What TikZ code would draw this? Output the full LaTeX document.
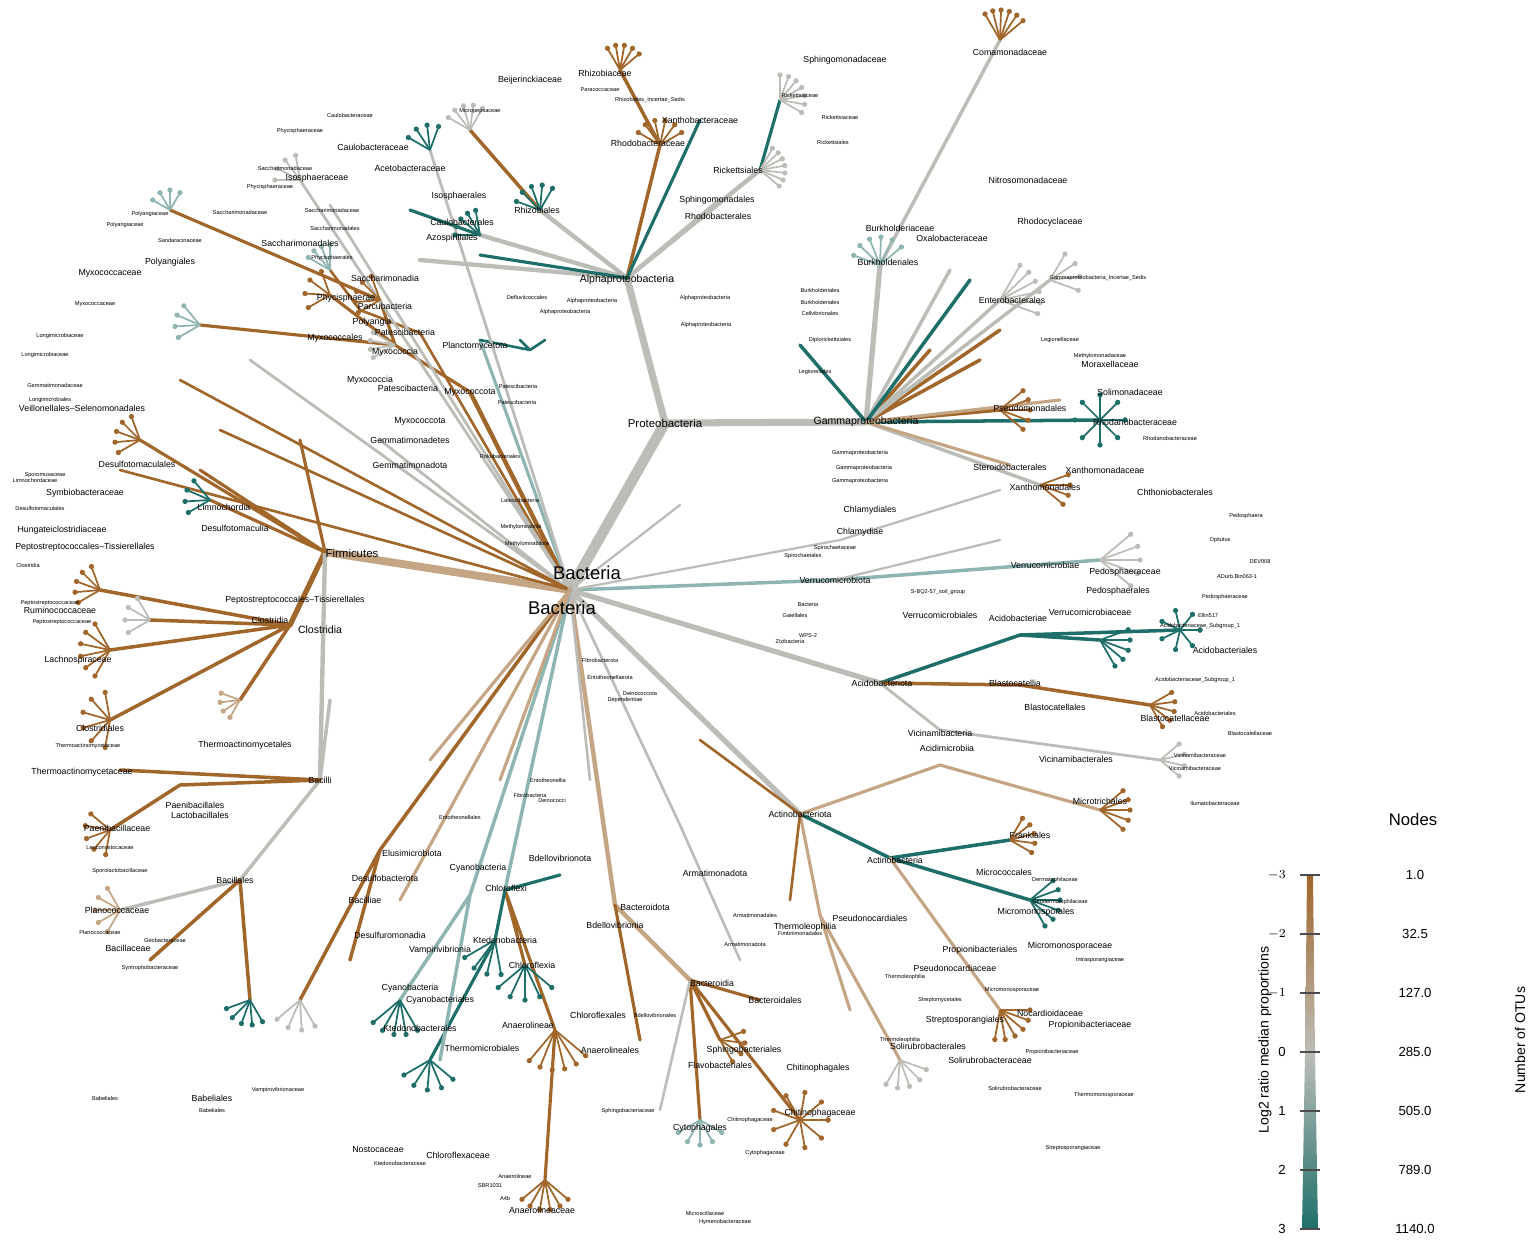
\documentclass[tikz,border=0pt]{standalone}
\usepackage{fontspec}
\setmainfont{Liberation Sans}
\definecolor{brn}{HTML}{A0662A}
\definecolor{tan}{HTML}{C4A584}
\definecolor{gry}{HTML}{BDBDB8}
\definecolor{ltl}{HTML}{8FB5B3}
\definecolor{tea}{HTML}{1E6F6A}
\newcommand\leaffan[6]{\foreach \i in {1,...,#4}{\pgfmathsetmacro\ang{#2+(#3-#2)*(\i-1)/max(#4-1,1)}\draw[#6,line width=1pt] (#1) -- ++(\ang:#5) node[dot,fill=#6]{};}}
\begin{document}
\begin{tikzpicture}[x=0.02cm,y=-0.02cm,
  dot/.style={circle,inner sep=0pt,minimum size=3pt},
  big/.style={font=\fontsize{9.5}{10}\selectfont},
  lab/.style={font=\fontsize{5}{6}\selectfont},
  sm/.style={font=\fontsize{3.2}{4}\selectfont},
  e/.style={line cap=round}]
\useasboundingbox (0,0) rectangle (1535,1241);
% ---------- coordinates
\coordinate (B) at (570,590);
\coordinate (P) at (665,423);
\coordinate (A) at (627,278);
\coordinate (G) at (866,422);
\coordinate (Bu) at (880,265);
\coordinate (Co) at (1000,40);
\coordinate (F) at (325,552);
\coordinate (Cl) at (290,625);
\coordinate (Ba) at (320,780);
\coordinate (Mx) at (470,392);
\coordinate (Mc) at (395,345);
\coordinate (Pg) at (380,300);
\coordinate (Pl) at (480,340);
\coordinate (Pt) at (420,333);
\coordinate (Ve) at (835,580);
\coordinate (Vc) at (1100,560);
\coordinate (Ac) at (880,683);
\coordinate (Aa) at (1020,635);
\coordinate (Bl) at (1020,685);
\coordinate (Vi) at (940,730);
\coordinate (At) at (800,814);
\coordinate (An) at (890,858);
\coordinate (Am) at (940,765);
\coordinate (Th) at (820,915);
\coordinate (Bd) at (615,905);
\coordinate (Bi) at (690,980);
\coordinate (Cx) at (505,890);
\coordinate (Cf) at (525,965);
\coordinate (Ae) at (555,1030);
\coordinate (Kt) at (495,940);
\coordinate (Cy) at (470,895);
\coordinate (Ds) at (380,850);
\coordinate (Bs) at (240,880);
\coordinate (Lb) at (180,785);
\coordinate (Rz) at (540,210);
\coordinate (Sp) at (720,200);
\coordinate (Rb) at (660,145);
\coordinate (Ca) at (480,235);
\coordinate (Ab) at (420,260);
\coordinate (Ri) at (760,170);
\coordinate (Ps) at (1000,410);
\coordinate (En) at (1000,300);
\coordinate (Xa) at (1040,485);
\coordinate (Ch) at (840,540);
\coordinate (Ar) at (680,825);
\coordinate (Ko) at (240,700);
% ---------- edges
\draw[e,gry,line width=6pt] (B)--(P);
\draw[e,gry,line width=4pt] (P)--(A) (P)--(G);
\draw[e,gry,line width=3pt] (G)--(Bu);
\draw[e,gry,line width=2pt] (Bu)--(Co);
\draw[e,tan,line width=4.5pt] (B)--(F);
\draw[e,brn,line width=3pt] (F)--(Cl);
\draw[e,gry,line width=2.5pt] (F)--(Ba);
\draw[e,brn,line width=2pt] (Cl)--(110,650) (Cl)--(110,720) (Cl)--(100,590) (Cl)--(150,620) (Cl)--(Ko);
\draw[e,brn,line width=1.8pt] (F)--(210,500) (F)--(200,470) (F)--(300,440) (F)--(140,440);
\draw[e,brn,line width=2.5pt] (B)--(Mx);
\draw[e,brn,line width=1.8pt] (Mx)--(Mc) (Mc)--(Pg) (Mc)--(330,295) (Pg)--(170,210) (Mc)--(200,325);
\draw[e,ltl,line width=1.8pt] (B)--(Pl);
\draw[e,tea,line width=1.5pt] (Pl)--(530,350) (530,350)--(545,340) (530,350)--(520,340);
\draw[e,brn,line width=1.5pt] (B)--(Pt) (Pt)--(360,310) (360,310)--(330,270);
\draw[e,gry,line width=1.6pt] (B)--(430,150) (B)--(300,180) (B)--(330,205) (B)--(380,440) (B)--(250,360);
\draw[e,brn,line width=1.5pt] (B)--(180,380) (B)--(120,470) (B)--(220,430);
\draw[e,ltl,line width=2pt] (B)--(Ve) (Ve)--(Vc);
\draw[e,gry,line width=1.3pt] (Ve)--(1000,540) (B)--(Ch) (Ch)--(1000,490) (B)--(680,505);
\draw[e,gry,line width=3pt] (B)--(Ac);
\draw[e,tea,line width=2pt] (Ac)--(Aa) (Aa)--(1100,640) (Aa)--(1180,630);
\draw[e,brn,line width=2pt] (Ac)--(Bl) (Bl)--(1150,705);
\draw[e,gry,line width=1.6pt] (Ac)--(Vi) (Vi)--(1160,760);
\draw[e,gry,line width=3pt] (B)--(At);
\draw[e,tea,line width=2pt] (At)--(An) (An)--(1010,840) (An)--(1030,900);
\draw[e,tan,line width=1.8pt] (At)--(Am) (Am)--(1100,810) (An)--(1000,1010);
\draw[e,tan,line width=1.8pt] (At)--(Th) (Th)--(900,1060) (Th)--(850,1010);
\draw[e,brn,line width=1.5pt] (At)--(790,900) (At)--(700,740);
\draw[e,tan,line width=2.5pt] (B)--(Bd) (Bd)--(Bi);
\draw[e,brn,line width=1.8pt] (Bi)--(720,1040) (Bi)--(760,1000) (Bi)--(800,1120) (Bi)--(700,1120) (Bd)--(640,1040);
\draw[e,gry,line width=1.5pt] (Bi)--(660,1110) (B)--(Ar) (Ar)--(740,960) (B)--(590,780);
\draw[e,ltl,line width=2pt] (B)--(Cx);
\draw[e,brn,line width=1.8pt] (Cx)--(Cf) (Cx)--(Ae) (Ae)--(545,1180);
\draw[e,tea,line width=1.8pt] (Cx)--(Kt) (Kt)--(430,1060) (Cx)--(560,875);
\draw[e,ltl,line width=2pt] (B)--(Cy) (Cy)--(400,1000) (Cy)--(440,1060);
\draw[e,brn,line width=2pt] (B)--(Ds) (Ds)--(300,1000) (Ds)--(350,960);
\draw[e,tan,line width=1.8pt] (B)--(430,760) (B)--(500,780) (B)--(400,900);
\draw[e,gry,line width=2pt] (Ba)--(Bs) (Bs)--(120,910) (Ba)--(330,700);
\draw[e,brn,line width=2pt] (Ba)--(Lb) (Lb)--(110,830) (Ba)--(120,770) (Bs)--(250,1000) (Bs)--(150,960);
\draw[e,gry,line width=2.5pt] (A)--(Rz) (A)--(Ca) (A)--(Ab) (A)--(Ri) (A)--(Sp);
\draw[e,brn,line width=2pt] (A)--(Rb) (Rz)--(470,130) (Rb)--(620,70);
\draw[e,tea,line width=1.8pt] (A)--(480,255) (A)--(700,120) (Ca)--(410,210) (Ri)--(780,100);
\draw[e,brn,line width=2pt] (G)--(Ps) (G)--(1000,330) (G)--(930,350) (G)--(980,360);
\draw[e,gry,line width=2pt] (G)--(En) (G)--(Xa) (G)--(1050,280) (G)--(950,270);
\draw[e,tea,line width=2pt] (G)--(800,345) (G)--(1100,420) (G)--(970,280);
\draw[e,tan,line width=1.8pt] (G)--(1010,465) (G)--(1060,400);
% ---------- fans
\leaffan{Co}{-120}{-40}{6}{30}{brn}
\leaffan{Bu}{200}{320}{6}{28}{ltl}
\leaffan{Rb}{-150}{-30}{6}{25}{brn}
\leaffan{Rz}{200}{300}{5}{25}{tea}
\leaffan{Ri}{-60}{40}{7}{25}{gry}
\leaffan{Ca}{180}{260}{5}{25}{tea}
\leaffan{Pg}{150}{250}{5}{25}{brn}
\leaffan{170,210}{-150}{-60}{4}{20}{ltl}
\leaffan{Mc}{150}{210}{4}{25}{gry}
\leaffan{140,440}{150}{250}{5}{25}{brn}
\leaffan{210,500}{150}{230}{4}{25}{tea}
\leaffan{100,590}{150}{250}{5}{25}{brn}
\leaffan{110,650}{120}{240}{6}{30}{brn}
\leaffan{110,720}{100}{260}{6}{28}{brn}
\leaffan{150,620}{150}{240}{4}{25}{gry}
\leaffan{110,830}{100}{220}{5}{25}{brn}
\leaffan{120,910}{120}{240}{5}{25}{tan}
\leaffan{250,1000}{60}{160}{5}{25}{tea}
\leaffan{300,1000}{60}{140}{4}{30}{gry}
\leaffan{400,1000}{60}{140}{5}{35}{tea}
\leaffan{430,1060}{40}{150}{5}{30}{tea}
\leaffan{545,1180}{40}{140}{6}{30}{brn}
\leaffan{Ae}{40}{130}{6}{40}{brn}
\leaffan{Cf}{40}{140}{5}{35}{tea}
\leaffan{800,1120}{0}{360}{10}{28}{brn}
\leaffan{700,1120}{30}{150}{5}{25}{ltl}
\leaffan{720,1040}{-20}{60}{4}{25}{brn}
\leaffan{900,1060}{20}{120}{5}{28}{gry}
\leaffan{1000,1010}{0}{100}{6}{30}{brn}
\leaffan{1030,900}{-40}{60}{6}{30}{tea}
\leaffan{1010,840}{-60}{30}{5}{25}{brn}
\leaffan{1100,810}{-40}{40}{5}{30}{brn}
\leaffan{1160,760}{-40}{40}{4}{25}{gry}
\leaffan{1150,705}{-30}{60}{5}{25}{brn}
\leaffan{1180,630}{0}{360}{8}{20}{tea}
\leaffan{1100,640}{-20}{60}{5}{30}{tea}
\leaffan{Vc}{-40}{40}{5}{40}{gry}
\leaffan{1100,420}{0}{360}{9}{25}{tea}
\leaffan{Ps}{-40}{40}{5}{30}{brn}
\leaffan{En}{-60}{20}{6}{40}{gry}
\leaffan{1050,280}{-60}{20}{4}{30}{gry}
\leaffan{Xa}{-20}{40}{4}{30}{brn}
\leaffan{780,100}{-90}{30}{7}{25}{gry}
\leaffan{620,70}{-120}{-40}{5}{25}{brn}
\leaffan{470,130}{-150}{-60}{5}{25}{gry}
\leaffan{330,295}{150}{250}{4}{25}{brn}
\leaffan{200,325}{150}{230}{4}{25}{ltl}
\leaffan{330,270}{-150}{-90}{4}{25}{ltl}
\leaffan{430,150}{-150}{-70}{4}{25}{tea}
\leaffan{300,180}{180}{260}{4}{25}{gry}
\leaffan{Kt}{80}{150}{4}{35}{tea}
\leaffan{Ko}{120}{200}{4}{20}{tan}
% ---------- labels
\node[big,font=\fontsize{10.5}{11}\selectfont] at (587,573) {Bacteria};
\node[big,font=\fontsize{10.5}{11}\selectfont] at (562,608) {Bacteria};
\node[lab,font=\fontsize{6.5}{7}\selectfont] at (665,423) {Proteobacteria};
\node[lab,font=\fontsize{6}{7}\selectfont] at (627,280) {Alphaproteobacteria};
\node[lab,font=\fontsize{6}{7}\selectfont] at (866,422) {Gammaproteobacteria};
\node[lab,font=\fontsize{6.5}{7}\selectfont] at (352,553) {Firmicutes};
\node[lab,font=\fontsize{6}{7}\selectfont] at (320,630) {Clostridia};
\node[lab] at (320,780) {Bacilli};
\node[lab] at (888,262) {Burkholderiales};
\node[lab] at (900,228) {Burkholderiaceae};
\node[lab] at (1010,52) {Comamonadaceae};
\node[lab] at (1028,180) {Nitrosomonadaceae};
\node[lab] at (1050,222) {Rhodocyclaceae};
\node[lab] at (952,238) {Oxalobacteraceae};
\node[lab] at (845,60) {Sphingomonadaceae};
\node[lab] at (470,392) {Myxococcota};
\node[lab] at (395,352) {Myxococcia};
\node[lab] at (372,322) {Polyangia};
\node[lab] at (170,262) {Polyangiales};
\node[lab] at (110,273) {Myxococcaceae};
\node[lab] at (475,346) {Planctomycetota};
\node[lab] at (405,332) {Patescibacteria};
\node[lab] at (385,278) {Saccharimonadia};
\node[lab] at (346,298) {Phycisphaerae};
\node[lab] at (300,243) {Saccharimonadales};
\node[lab] at (385,306) {Parcubacteria};
\node[lab] at (452,238) {Azospirillales};
\node[lab] at (462,222) {Caulobacterales};
\node[lab] at (459,196) {Isosphaerales};
\node[lab] at (410,168) {Acetobacteraceae};
\node[lab] at (373,147) {Caulobacteraceae};
\node[lab] at (317,178) {Isosphaeraceae};
\node[lab] at (537,210) {Rhizobiales};
\node[lab] at (717,200) {Sphingomonadales};
\node[lab] at (718,216) {Rhodobacterales};
\node[lab] at (648,143) {Rhodobacteraceae};
\node[lab] at (738,170) {Rickettsiales};
\node[lab] at (700,120) {Xanthobacteraceae};
\node[lab] at (605,73) {Rhizobiaceae};
\node[lab] at (530,80) {Beijerinckiaceae};
\node[lab] at (1030,408) {Pseudomonadales};
\node[lab] at (1012,300) {Enterobacterales};
\node[lab] at (1045,487) {Xanthomonadales};
\node[lab] at (1010,467) {Steroidobacterales};
\node[lab] at (1135,422) {Rhodanobacteraceae};
\node[lab] at (1105,470) {Xanthomonadaceae};
\node[lab] at (1110,364) {Moraxellaceae};
\node[lab] at (1130,392) {Solimonadaceae};
\node[lab] at (860,532) {Chlamydiae};
\node[lab] at (870,510) {Chlamydiales};
\node[lab] at (835,580) {Verrucomicrobiota};
\node[lab] at (1045,565) {Verrucomicrobiae};
\node[lab] at (1125,572) {Pedosphaeraceae};
\node[lab] at (1118,591) {Pedosphaerales};
\node[lab] at (1175,492) {Chthoniobacterales};
\node[lab] at (940,615) {Verrucomicrobiales};
\node[lab] at (1090,612) {Verrucomicrobiaceae};
\node[lab] at (882,683) {Acidobacteriota};
\node[lab] at (1018,618) {Acidobacteriae};
\node[lab] at (1015,683) {Blastocatellia};
\node[lab] at (1225,650) {Acidobacteriales};
\node[lab] at (1055,707) {Blastocatellales};
\node[lab] at (1175,718) {Blastocatellaceae};
\node[lab] at (940,733) {Vicinamibacteria};
\node[lab] at (1076,759) {Vicinamibacterales};
\node[lab] at (947,748) {Acidimicrobiia};
\node[lab] at (1100,801) {Microtrichales};
\node[lab] at (800,814) {Actinobacteriota};
\node[lab] at (895,860) {Actinobacteria};
\node[lab] at (1030,835) {Frankiales};
\node[lab] at (1004,872) {Micrococcales};
\node[lab] at (1036,912) {Micromonosporales};
\node[lab] at (1070,946) {Micromonosporaceae};
\node[lab] at (980,950) {Propionibacteriales};
\node[lab] at (955,968) {Pseudonocardiaceae};
\node[lab] at (1050,1013) {Nocardioidaceae};
\node[lab] at (1090,1025) {Propionibacteriaceae};
\node[lab] at (965,1020) {Streptosporangiales};
\node[lab] at (990,1060) {Solirubrobacteraceae};
\node[lab] at (928,1046) {Solirubrobacterales};
\node[lab] at (870,918) {Pseudonocardiales};
\node[lab] at (805,927) {Thermoleophilia};
\node[lab] at (715,873) {Armatimonadota};
\node[lab] at (560,858) {Bdellovibrionota};
\node[lab] at (645,907) {Bacteroidota};
\node[lab] at (712,983) {Bacteroidia};
\node[lab] at (615,925) {Bdellovibrionia};
\node[lab] at (775,1000) {Bacteroidales};
\node[lab] at (818,1068) {Chitinophagales};
\node[lab] at (744,1050) {Sphingobacteriales};
\node[lab] at (720,1065) {Flavobacteriales};
\node[lab] at (700,1128) {Cytophagales};
\node[lab] at (820,1113) {Chitinophagaceae};
\node[lab] at (610,1050) {Anaerolineales};
\node[lab] at (506,888) {Chloroflexi};
\node[lab] at (532,965) {Chloroflexia};
\node[lab] at (505,940) {Ktedonobacteria};
\node[lab] at (528,1025) {Anaerolineae};
\node[lab] at (598,1015) {Chloroflexales};
\node[lab] at (482,1048) {Thermomicrobiales};
\node[lab] at (542,1210) {Anaerolineaceae};
\node[lab] at (458,1155) {Chloroflexaceae};
\node[lab] at (420,1028) {Ktedonobacterales};
\node[lab] at (440,1000) {Cyanobacteriales};
\node[lab] at (478,868) {Cyanobacteria};
\node[lab] at (410,988) {Cyanobacteria};
\node[lab] at (378,1150) {Nostocaceae};
\node[lab] at (440,950) {Vampirivibrionia};
\node[lab] at (412,853) {Elusimicrobiota};
\node[lab] at (385,878) {Desulfobacterota};
\node[lab] at (390,935) {Desulfuromonadia};
\node[lab] at (365,900) {Bacilliae};
\node[lab] at (212,1098) {Babeliales};
\node[lab] at (128,948) {Bacillaceae};
\node[lab] at (117,910) {Planococcaceae};
\node[lab] at (235,880) {Bacillales};
\node[lab] at (200,815) {Lactobacillales};
\node[lab] at (195,805) {Paenibacillales};
\node[lab] at (117,828) {Paenibacillaceae};
\node[lab] at (82,772) {Thermoactinomycetaceae};
\node[lab] at (245,745) {Thermoactinomycetales};
\node[lab] at (100,728) {Clostridiales};
\node[lab] at (78,660) {Lachnospiraceae};
\node[lab] at (60,610) {Ruminococcaceae};
\node[lab] at (270,620) {Clostridia};
\node[lab] at (295,600) {Peptostreptococcales–Tissierellales};
\node[lab] at (85,547) {Peptostreptococcales–Tissierellales};
\node[lab] at (62,530) {Hungateiclostridiaceae};
\node[lab] at (235,528) {Desulfotomaculia};
\node[lab] at (224,507) {Limnochordia};
\node[lab] at (137,464) {Desulfotomaculales};
\node[lab] at (82,408) {Veillonellales–Selenomonadales};
\node[lab] at (85,493) {Symbiobacteraceae};
\node[lab] at (410,465) {Gemmatimonadota};
\node[lab] at (410,440) {Gemmatimonadetes};
\node[lab] at (420,421) {Myxococcota};
\node[lab] at (370,380) {Myxococcia};
\node[lab] at (408,388) {Patescibacteria};
\node[lab] at (335,338) {Myxococcales};
% small labels (selection)
\foreach \x/\y/\t in {
 592/301/Alphaproteobacteria, 705/298/Alphaproteobacteria, 706/325/Alphaproteobacteria,
 565/312/Alphaproteobacteria, 527/297/Defluviicoccales, 518/386/Patescibacteria,
 517/402/Patescibacteria, 500/456/Rokubacteriales, 520/500/Latescibacteria,
 521/527/Methylomirabilia, 527/544/Methylomirabilota, 864/468/Gammaproteobacteria,
 860/481/Gammaproteobacteria, 860/453/Gammaproteobacteria, 1098/278/Gammaproteobacteria\_Incertae\_Sedis,
 835/548/Spirochaetaceae, 803/556/Spirochaetales, 938/592/S-BQ2-57\_soil\_group,
 795/615/Gaiellales, 808/636/WPS-2, 790/641/Zixibacteria, 808/604/Bacteria,
 1237/576/ADurb.Bin063-1, 1246/516/Pedosphaera, 1260/562/DEV008, 1220/540/Opitutus,
 1225/597/Pedosphaeraceae, 1215/713/Acidobacteriales, 1250/733/Blastocatellaceae,
 1200/755/Vicinamibacteraceae, 1195/768/Vicinamibacteraceae, 1215/803/Ilumatobacteraceae,
 1104/1095/Thermomonosporaceae, 1052/1052/Propionibacteriaceae, 1012/990/Micromonosporaceae,
 600/660/Fibrobacterota, 610/677/Entotheonellaeota, 640/693/Deinococcota, 625/700/Dependentiae,
 530/795/Fibrobacteria, 548/780/Entotheonellia, 552/800/Deinococci, 460/817/Entotheonellales,
 628/1111/Sphingobacteriaceae, 725/1222/Hymenobacteraceae, 705/1213/Microscillaceae,
 515/1176/Anaerolineae, 505/1198/A4b, 490/1186/SBR1031, 400/1163/Ktedonobacteraceae,
 278/1090/Vampirovibrionaceae, 212/1110/Babeliales, 105/1098/Babeliales,
 150/968/Syntrophobacteraceae, 165/940/Geobacteraceae, 100/932/Planococcaceae,
 120/871/Sporolactobacillaceae, 110/848/Leuconostocaceae, 88/746/Thermoactinomycetaceae,
 62/622/Peptostreptococcaceae, 50/603/Peptostreptococcaceae, 28/565/Clostridia,
 40/508/Desulfotomaculales, 35/480/Limnochordaceae, 45/475/Sporomusaceae, 50/400/Longimicrobiales,
 55/385/Gemmatimonadaceae, 45/355/Longimicrobiaceae, 60/336/Longimicrobiaceae,
 125/225/Polyangiaceae, 150/214/Polyangiaceae, 180/240/Sandaracinaceae, 95/304/Myxococcaceae,
 270/187/Phycisphaeraceae, 240/212/Saccharimonadaceae, 332/210/Saccharimonadaceae,
 335/228/Saccharimonadales, 332/258/Phycisphaerales, 300/131/Phycisphaeraceae,
 285/168/Saccharimonadaceae, 350/115/Caulobacteraceae, 480/111/Micropepsaceae,
 650/100/Rhizobiales\_Incertae\_Sedis, 600/90/Paracoccaceae, 800/95/Rickettsiaceae,
 840/117/Rickettsiaceae, 833/142/Rickettsiales, 820/290/Burkholderiales, 820/302/Burkholderiales,
 820/313/Cellvibrionales, 830/340/Diplorickettsiales, 815/372/Legionellales, 1060/340/Legionellaceae,
 1100/356/Methylomonadaceae, 1170/438/Rhodanobacteraceae, 1208/615/Ellin517,
 1200/626/Acidobacteriaceae\_Subgroup\_1, 1195/680/Acidobacteriaceae\_Subgroup\_1,
 755/915/Armatimonadales, 745/944/Armatimonadota, 800/933/Fimbriimonadales,
 655/1015/Bdellovibrionales, 750/1120/Chitinophagaceae, 765/1153/Cytophagaceae,
 940/1000/Streptomycetales, 905/977/Thermoleophilia, 900/1040/Thermoleophilia,
 1015/1088/Solirubrobacteraceae, 1073/1148/Streptosporangiaceae, 1100/960/Intrasporangiaceae,
 1055/880/Dermatophilaceae, 1060/902/Geodermatophilaceae}
 {\node[sm] at (\x,\y) {\t};}
% ---------- legend
\shade[top color=brn,bottom color=gry] (1307,875)--(1313,875)--(1315,1052)--(1305,1052)--cycle;
\shade[top color=gry,bottom color=tea] (1305,1052)--(1315,1052)--(1318,1229)--(1302,1229)--cycle;
\foreach \y/\l/\r in {875/$-3$/1.0, 934/$-2$/32.5, 993/$-1$/127.0, 1052/0/285.0, 1111/1/505.0, 1170/2/789.0, 1229/3/1140.0}{
  \draw[line width=1.2pt,black!70] (1300,\y)--(1320,\y);
  \node[font=\fontsize{7.5}{8}\selectfont,anchor=east] at (1292,\y) {\l};
  \node[font=\fontsize{7.5}{8}\selectfont] at (1415,\y) {\r};
}
\node[font=\fontsize{9.5}{10}\selectfont] at (1413,820) {Nodes};
\node[font=\fontsize{8}{9}\selectfont,rotate=90] at (1265,1040) {Log2 ratio median proportions};
\node[font=\fontsize{8}{9}\selectfont,rotate=90] at (1520,1040) {Number of OTUs};
\end{tikzpicture}
\end{document}
